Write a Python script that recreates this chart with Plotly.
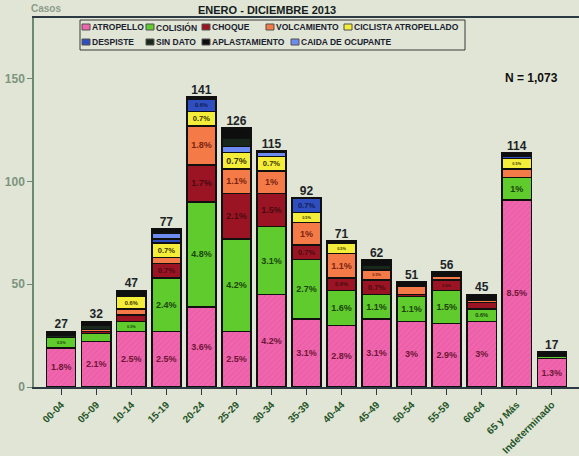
import plotly.graph_objects as go

# Age groups (x axis)
edades = ["00-04", "05-09", "10-14", "15-19", "20-24", "25-29", "30-34", "35-39",
          "40-44", "45-49", "50-54", "55-59", "60-64", "65 y Más", "Indeterminado"]

# Cases per type of accident
atropello = [19, 22, 27, 27, 39, 27, 45, 33, 30, 33, 32, 31, 32, 91, 14]
colision = [5, 4, 5, 26, 51, 45, 33, 29, 17, 12, 12, 16, 6, 11, 1]
choque = [0, 1, 3, 7, 18, 22, 16, 7, 6, 7, 1, 5, 3, 0, 0]
volcamiento = [0, 1, 3, 3, 19, 12, 11, 11, 12, 5, 4, 2, 1, 4, 0]
ciclista = [0, 0, 6, 7, 7, 8, 7, 5, 5, 0, 0, 0, 0, 5, 0]
despiste = [0, 0, 0, 2, 6, 0, 0, 7, 0, 0, 0, 0, 0, 1, 0]
caida = [0, 0, 0, 3, 0, 3, 2, 0, 0, 0, 0, 0, 0, 0, 0]
sin_dato = [1, 2, 0, 0, 0, 4, 0, 0, 0, 2, 0, 0, 0, 0, 0]
aplastamiento = [2, 2, 3, 2, 1, 5, 1, 0, 1, 3, 2, 2, 3, 2, 2]

N = 1073

# name, values, fill colour, label colour (None = no % label)
series = [
    ("ATROPELLO", atropello, "#f066ae", "#6e1636"),
    ("COLISIÓN", colision, "#5fcb2c", "#1c4410"),
    ("CHOQUE", choque, "#9b1424", "#4a0a10"),
    ("VOLCAMIENTO", volcamiento, "#f47a48", "#7a2410"),
    ("CICLISTA ATROPELLADO", ciclista, "#f4ee3a", "#3a3600"),
    ("DESPISTE", despiste, "#2f4fc0", "#101c50"),
    ("CAIDA DE OCUPANTE", caida, "#6c8cf2", None),
    ("SIN DATO", sin_dato, "#18281c", None),
    ("APLASTAMIENTO", aplastamiento, "#0e0e0e", None),
]


def pct(v, label_color):
    if label_color is None or v < 5:
        return ""
    p = round(v / N * 100, 1)
    s = f"{p:.1f}".rstrip("0").rstrip(".")
    return s + "%"


fig = go.Figure()
for name, vals, color, lcol in series:
    fig.add_trace(go.Bar(
        x=edades, y=vals, name=name,
        marker=dict(color=color, line=dict(color="#101010", width=1.4),
                    pattern=dict(shape="/", fgcolor="#e04c98", size=4, solidity=0.25)
                    if name == "ATROPELLO" else None),
        text=[pct(v, lcol) for v in vals],
        textposition="inside", insidetextanchor="middle", textangle=0,
        textfont=dict(size=9, color=lcol or "#000", family="Liberation Sans", weight="bold"),
        showlegend=False,
    ))

totales = [sum(s[1][i] for s in series) for i in range(len(edades))]
fig.add_trace(go.Scatter(
    x=edades, y=totales, mode="text", text=[str(t) for t in totales],
    textposition="top center",
    textfont=dict(size=12, color="#1c2428", family="Liberation Sans", weight="bold"),
    showlegend=False, hoverinfo="skip", cliponaxis=False,
))

# plot area in pixels: x 34..579, y 18..387
L, R, T, B = 34, 579, 18, 387


def px(x):
    return (x - L) / (R - L)


def py(y):
    return (B - y) / (B - T)


# hand drawn legend box
shapes = [dict(type="rect", xref="paper", yref="paper",
               x0=px(80), x1=px(465), y0=py(50), y1=py(20),
               line=dict(color="#3a3a3a", width=1), fillcolor="rgba(0,0,0,0)")]
annotations = []
leg_pos = {
    "ATROPELLO": (82, 27), "COLISIÓN": (146, 27), "CHOQUE": (202, 27),
    "VOLCAMIENTO": (266, 27), "CICLISTA ATROPELLADO": (344, 27),
    "DESPISTE": (82, 42), "SIN DATO": (146, 42), "APLASTAMIENTO": (202, 42),
    "CAIDA DE OCUPANTE": (291, 42),
}
for name, vals, color, lcol in series:
    x, y = leg_pos[name]
    shapes.append(dict(type="rect", xref="paper", yref="paper",
                       x0=px(x), x1=px(x + 8), y0=py(y + 3), y1=py(y - 3),
                       line=dict(color="#505050", width=1), fillcolor=color))
    annotations.append(dict(text=name, xref="paper", yref="paper",
                            x=px(x + 8), y=py(y), xanchor="left", yanchor="middle",
                            showarrow=False,
                            font=dict(size=8.5, color="#1a2230", family="Liberation Sans", weight="bold")))

annotations += [
    dict(text="ENERO - DICIEMBRE 2013", xref="paper", yref="paper", x=px(267), y=py(10),
         xanchor="center", yanchor="middle", showarrow=False,
         font=dict(size=11, color="#141c20", family="Liberation Sans", weight="bold")),
    dict(text="Casos", xref="paper", yref="paper", x=px(29), y=py(8),
         xanchor="left", yanchor="middle", showarrow=False,
         font=dict(size=10, color="#8c9c8c", family="Liberation Sans", weight="bold")),
    dict(text="N = 1,073", xref="paper", yref="paper", x=px(531), y=py(78),
         xanchor="center", yanchor="middle", showarrow=False,
         font=dict(size=12, color="#101010", family="Liberation Sans", weight="bold")),
]

fig.update_layout(
    width=579, height=456,
    margin=dict(l=L, r=579 - R, t=T, b=456 - B),
    barmode="stack", bargap=0.17,
    paper_bgcolor="#e1e5d5", plot_bgcolor="#e1e5d5",
    shapes=shapes, annotations=annotations,
    font=dict(family="Liberation Sans"),
)
fig.update_xaxes(
    type="category", automargin=False,
    showline=True, linecolor="#2c3a44", linewidth=2, mirror=True,
    ticks="outside", ticklen=6, tickcolor="#2c3a44", tickangle=-45,
    tickfont=dict(size=10, color="#1e5428", weight="bold"), showgrid=False,
)
fig.update_yaxes(
    automargin=False,
    range=[0, (B - T) / 2.056], tickvals=[0, 50, 100, 150],
    showline=True, linecolor="#6c8a70", linewidth=1.5,
    ticks="outside", ticklen=5, tickcolor="#6c8a70",
    tickfont=dict(size=12, color="#7d947f", weight="bold"), showgrid=False, zeroline=False,
)

# page has a default 8px body margin, drop it so the figure sits at 0,0
fig.write_html("out.html", config={"displayModeBar": False},
               post_script="document.body.style.margin='0';")
